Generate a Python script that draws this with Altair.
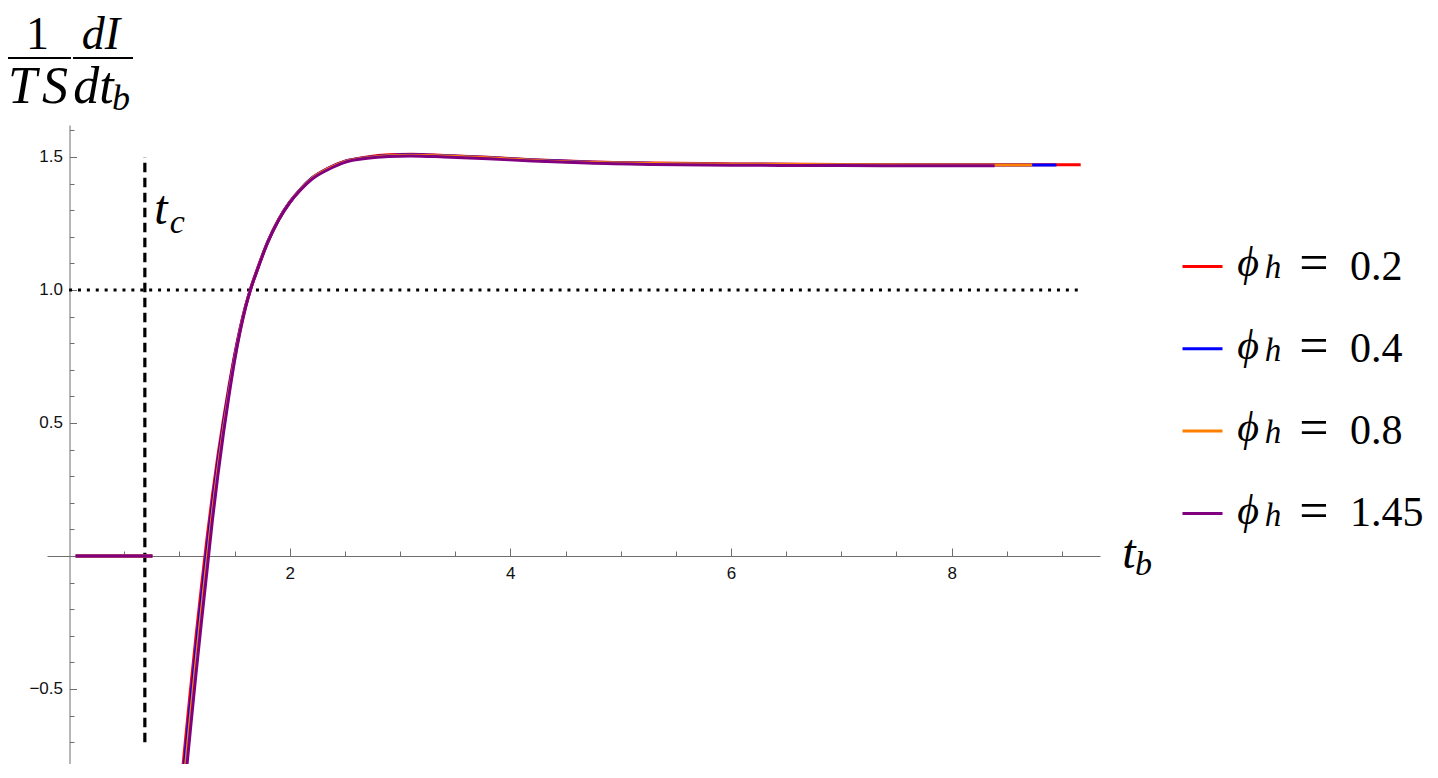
import altair as alt
import pandas as pd

# ---------------- data ----------------
SERIES = ["0.2", "0.4", "0.8", "1.45"]
COLORS = ["#FF0000", "#0000FF", "#FF8000", "#800080"]

T = [1.00, 1.05, 1.10, 1.15, 1.20, 1.25, 1.30, 1.35, 1.40, 1.45, 1.50, 1.55, 1.60,
     1.65, 1.70, 1.80, 1.90, 2.00, 2.10, 2.20, 2.35, 2.50, 2.70, 2.90, 3.10, 3.40,
     3.80, 4.20, 4.70, 5.30, 6.00, 7.00, 8.00]

RED = [-0.930, -0.715, -0.505, -0.305, -0.115, 0.065, 0.230, 0.380, 0.515, 0.640, 0.755,
       0.855, 0.940, 1.010, 1.070, 1.180, 1.265, 1.330, 1.380, 1.420, 1.458, 1.484, 1.500,
       1.508, 1.510, 1.506, 1.499, 1.490, 1.482, 1.477, 1.474, 1.472, 1.471]
BLUE = [-0.980, -0.765, -0.555, -0.352, -0.159, 0.024, 0.199, 0.356, 0.498, 0.628, 0.748,
        0.851, 0.938, 1.010, 1.070, 1.180, 1.265, 1.330, 1.380, 1.420, 1.457, 1.483, 1.498,
        1.506, 1.508, 1.505, 1.498, 1.489, 1.481, 1.476, 1.473, 1.471, 1.470]
ORANGE = [-1.030, -0.815, -0.603, -0.399, -0.204, -0.017, 0.168, 0.332, 0.480, 0.616, 0.740,
          0.847, 0.937, 1.009, 1.069, 1.179, 1.264, 1.329, 1.379, 1.419, 1.456, 1.482, 1.497,
          1.505, 1.507, 1.504, 1.497, 1.488, 1.480, 1.476, 1.473, 1.471, 1.470]
PURPLE = [-1.085, -0.865, -0.653, -0.445, -0.248, -0.057, 0.137, 0.307, 0.463, 0.604, 0.733,
          0.843, 0.935, 1.008, 1.068, 1.178, 1.263, 1.328, 1.377, 1.416, 1.453, 1.480, 1.495,
          1.502, 1.504, 1.500, 1.493, 1.485, 1.477, 1.472, 1.469, 1.468, 1.467]
VALUES = [RED, BLUE, ORANGE, PURPLE]

T_END = [9.17, 8.95, 8.73, 8.39]        # where each curve stops
V_END = [1.471, 1.470, 1.470, 1.467]

FLAT_T = [0.06, 0.755]
FLAT_V = [0.0, 0.0]

T_C = 0.687
T_C_RANGE = [-0.70, 1.50]
H_LINE = 1.0
H_LINE_RANGE = [0.0, 9.17]

X_TICKS = [0.5, 1.0, 1.5, 2.0, 2.5, 3.0, 3.5, 4.0, 4.5, 5.0, 5.5, 6.0, 6.5, 7.0, 7.5,
           8.0, 8.5, 9.0]
X_LABELS = [2, 4, 6, 8]
Y_TICKS = [-0.8, -0.7, -0.6, -0.5, -0.4, -0.3, -0.2, -0.1, 0.1, 0.2, 0.3, 0.4, 0.5,
           0.6, 0.7, 0.8, 0.9, 1.0, 1.1, 1.2, 1.3, 1.4, 1.5, 1.6]
Y_LABELS = [-0.5, 0.5, 1.0, 1.5]

X_DOMAIN = [-0.2, 9.345]
Y_DOMAIN = [-0.782, 1.6203]

# ---------------- layout ----------------
W, H = 1053, 639
AX_Y0 = 431      # pixel of y=0 inside plot
AX_X0 = 22.5     # pixel of x=0 inside plot
AXIS_COLOR = "#6e6e6e"
SERIF = "Liberation Serif"

xs = alt.Scale(domain=X_DOMAIN, nice=False, zero=False)
ys = alt.Scale(domain=Y_DOMAIN, nice=False, zero=False)
cs = alt.Scale(domain=SERIES, range=COLORS)

axis_ticks_x = alt.Axis(orient="top", offset=-AX_Y0, values=X_TICKS, labels=False,
                        domain=True, domainColor=AXIS_COLOR, domainWidth=1,
                        ticks=True, tickColor=AXIS_COLOR, tickWidth=1,
                        tickSize={"condition": {"test": "datum.value % 2 === 0", "value": 8},
                                  "value": 5},
                        grid=False, title=None)
axis_ticks_y = alt.Axis(orient="right", offset=-(W - AX_X0), values=Y_TICKS, labels=False,
                        domain=True, domainColor=AXIS_COLOR, domainWidth=1,
                        ticks=True, tickColor=AXIS_COLOR, tickWidth=1,
                        tickSize={"condition": {"test": "abs(round(datum.value*10)) % 5 === 0",
                                                "value": 7}, "value": 4.5},
                        grid=False, title=None)
axis_lab_x = alt.Axis(orient="bottom", offset=-(H - AX_Y0), values=X_LABELS, labels=True,
                      ticks=False, domain=False, grid=False, title=None,
                      labelFont="Liberation Sans", labelFontSize=17, labelColor="#111",
                      labelPadding=9, labelOverlap=False, labelFlush=False)
axis_lab_y = alt.Axis(orient="left", offset=-AX_X0, values=Y_LABELS, labels=True, format=".1f",
                      ticks=False, domain=False, grid=False, title=None,
                      labelFont="Liberation Sans", labelFontSize=17, labelColor="#111",
                      labelPadding=7, labelOverlap=False, labelFlush=False)

ROW0 = 151       # baseline (inside plot coords) of first legend row
ROW_GAP = 82.7

legend = alt.Legend(orient="none", legendX=1134, legendY=120, direction="vertical",
                    title=None, symbolType="stroke", symbolSize=1600, symbolStrokeWidth=3,
                    labelFont=SERIF, labelFontSize=42, labelColor="black", labelOffset=126,
                    rowPadding=39.3, padding=0)

layers = []

# reference lines (carry the axes)
ref_h = pd.DataFrame({"x": [H_LINE_RANGE[0]], "x2": [H_LINE_RANGE[1]], "y": [H_LINE]})
layers.append(
    alt.Chart(ref_h).mark_rule(color="black", strokeWidth=3, strokeDash=[3, 5.9])
    .encode(x=alt.X("x:Q", scale=xs, axis=axis_ticks_x), x2="x2:Q",
            y=alt.Y("y:Q", scale=ys, axis=axis_ticks_y))
)
ref_v = pd.DataFrame({"x": [T_C], "y": [T_C_RANGE[0]], "y2": [T_C_RANGE[1]]})
layers.append(
    alt.Chart(ref_v).mark_rule(color="black", strokeWidth=3.2, strokeDash=[9.5, 5.5])
    .encode(x=alt.X("x:Q", scale=xs, axis=axis_lab_x),
            y=alt.Y("y:Q", scale=ys, axis=axis_lab_y), y2="y2:Q")
)

# curves
for s, vals, te, ve in zip(SERIES, VALUES, T_END, V_END):
    ts = FLAT_T + T + [te]
    vs = FLAT_V + vals + [ve]
    seg = ["flat"] * len(FLAT_T) + ["main"] * (len(T) + 1)
    df = pd.DataFrame({"t": ts, "v": vs, "series": s, "seg": seg})
    layers.append(
        alt.Chart(df).mark_line(clip=True, strokeWidth=3, interpolate="monotone")
        .encode(x=alt.X("t:Q", scale=xs, axis=None),
                y=alt.Y("v:Q", scale=ys, axis=None),
                color=alt.Color("series:N", scale=cs, legend=legend),
                detail="seg:N")
    )

# text annotations (math-like labels)
one = pd.DataFrame({"k": [0]})


def txt(s, x, y, size, italic=True, font=SERIF):
    return (alt.Chart(one)
            .mark_text(text=s, fontSize=size, font=font,
                       fontStyle="italic" if italic else "normal",
                       align="center", baseline="alphabetic", color="black")
            .encode(x=alt.value(x), y=alt.value(y)))


def bar(x1, x2, y):
    return (alt.Chart(one).mark_rule(color="black", strokeWidth=2)
            .encode(x=alt.value(x1), x2=alt.value(x2), y=alt.value(y)))


# y title: 1/(TS) dI/dt_b
layers += [
    txt("1", -9.5, -76, 46, italic=False),
    bar(-43, 24, -67),
    txt("T", -24.5, -22, 52),
    txt("S", 8, -22, 52),
    bar(26, 86, -67),
    txt("dI", 54, -76, 46),
    txt("dt", 46.5, -22, 52),
    txt("b", 74, -15, 36),
]
# t_c label
layers += [txt("t", 114, 99, 48), txt("c", 130.3, 108, 34)]
# t_b label
layers += [txt("t", 1082, 443, 48), txt("b", 1096.5, 450, 34)]
# legend phi_h = parts
for i in range(len(SERIES)):
    yb = ROW0 + i * ROW_GAP
    layers += [txt("\u03d5", 1201, yb, 42),
               txt("h", 1226, yb + 2, 33),
               txt("=", 1267, yb + 4, 52, italic=False)]

chart = (alt.layer(*layers)
         .resolve_scale(x="shared", y="shared", color="shared")
         .resolve_axis(x="independent", y="independent")
         .properties(width=W, height=H, autosize=alt.AutoSizeParams(type="none"),
                     padding={"left": 39, "top": 117, "right": 330, "bottom": 0},
                     background="white")
         .configure_view(stroke=None))

chart.save("out.html", embed_options={"renderer": "svg", "actions": False})
